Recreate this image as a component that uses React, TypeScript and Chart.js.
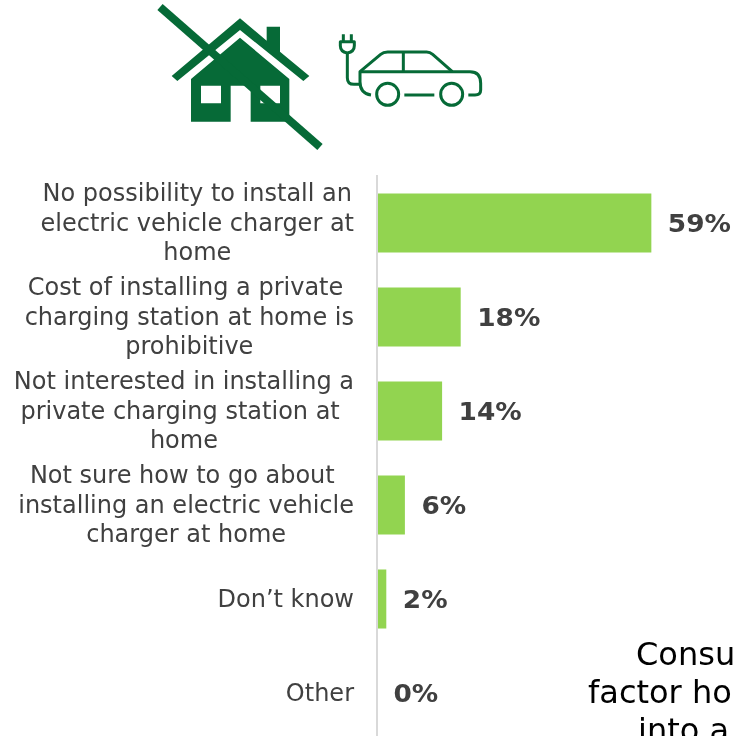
import { useEffect, useRef } from "react";
import { Chart, registerables } from "chart.js";

Chart.register(...registerables);

const categories: string[][] = [
  ["No possibility to install an", "electric vehicle charger at", "home"],
  ["Cost of installing a private ", "charging station at home is", "prohibitive"],
  ["Not interested in installing a", "private charging station at ", "home"],
  ["Not sure how to go about ", "installing an electric vehicle", "charger at home"],
  ["Don’t know"],
  ["Other"],
];
const shares = [59, 18, 14, 6, 2, 0];
const clippedNote = [
  { text: "Consu", x: 636, y: 665 },
  { text: "factor ho", x: 588, y: 703 },
  { text: "into a", x: 638, y: 741 },
];

const FONT = '"DejaVu Sans"';
const INK = "#404040";
const GREEN = "#066a37";
const BAR = "#92d450";

// Multi-line category labels: each block hugs the axis, its lines centred inside it.
const categoryLabels = {
  id: "categoryLabels",
  afterDraw(chart: Chart) {
    const { ctx, scales } = chart;
    const rightEdge = 354;
    const lineHeight = 29.3;
    ctx.save();
    ctx.font = `24px ${FONT}`;
    ctx.fillStyle = INK;
    ctx.textBaseline = "middle";
    categories.forEach((lines, i) => {
      const y = scales.y.getPixelForValue(i) + 1.5;
      const widest = Math.max(...lines.map((l) => ctx.measureText(l).width));
      const cx = rightEdge - widest / 2;
      lines.forEach((line, k) => {
        const left = cx - ctx.measureText(line).width / 2;
        ctx.textAlign = "left";
        ctx.fillText(line, left, y + (k - (lines.length - 1) / 2) * lineHeight);
      });
    });
    ctx.restore();
  },
};

// Percentage printed just past the end of each bar, set slightly wide.
const valueLabels = {
  id: "valueLabels",
  afterDatasetsDraw(chart: Chart) {
    const { ctx } = chart;
    const bars = chart.getDatasetMeta(0).data;
    bars.forEach((bar, i) => {
      ctx.save();
      ctx.font = `bold 25px ${FONT}`;
      ctx.fillStyle = INK;
      ctx.textBaseline = "middle";
      ctx.textAlign = "left";
      ctx.translate(bar.x + 16.5, bar.y + 2.5);
      ctx.scale(1.055, 1);
      ctx.fillText(`${shares[i]}%`, 0, 0);
      ctx.restore();
    });
  },
};

// Sentence running off the right edge of the page.
const noteText = {
  id: "noteText",
  afterDraw(chart: Chart) {
    const { ctx } = chart;
    ctx.save();
    ctx.font = `32px ${FONT}`;
    ctx.fillStyle = "#000000";
    ctx.textAlign = "left";
    ctx.textBaseline = "alphabetic";
    clippedNote.forEach((l) => ctx.fillText(l.text, l.x, l.y));
    ctx.restore();
  },
};

function HouseIcon() {
  return (
    <svg
      viewBox="0 0 540 465"
      width={180}
      height={155}
      style={{ position: "absolute", left: 150, top: 0 }}
    >
      <path
        fill={GREEN}
        d="M65 228 L270 55 L350 122 L350 80 L390 80 L390 155 L478 228 L460 243 L270 90 L82 243 Z"
      />
      <path
        fill={GREEN}
        fillRule="evenodd"
        d="M270 113 L418 237 L418 365 L302 365 L302 257 L242 257 L242 365 L123 365 L123 237 Z M153 257 L153 310 L213 310 L213 257 Z M331 257 L331 310 L390 310 L390 257 Z"
      />
      <line x1={30} y1={21} x2={510} y2={441} stroke={GREEN} strokeWidth={24} />
    </svg>
  );
}

function CarIcon() {
  return (
    <svg
      viewBox="0 0 465 255"
      width={155}
      height={85}
      style={{ position: "absolute", left: 335, top: 25 }}
      fill="none"
      stroke={GREEN}
      strokeWidth={9}
      strokeLinecap="butt"
      strokeLinejoin="round"
    >
      <path d="M25 28 V48 M49 28 V48" />
      <path d="M16 50 H58 V62 Q58 80 37 84 Q16 80 16 62 Z" />
      <path d="M37 84 V158 Q37 178 57 178 H72" />
      <path d="M108 210 Q75 205 75 170 V140 L137 88 Q145 81 158 81 H275 Q285 81 293 88 L352 140" />
      <path d="M75 140 H405 Q437 140 437 175 V195 Q437 210 420 210 H400" />
      <path d="M205 84 V140" />
      <path d="M208 210 H298" />
      <circle cx={158} cy={208} r={33} />
      <circle cx={350} cy={208} r={33} />
    </svg>
  );
}

export default function App() {
  const canvasRef = useRef<HTMLCanvasElement>(null);

  useEffect(() => {
    const chart = new Chart(canvasRef.current!, {
      type: "bar",
      data: {
        labels: categories.map((c) => c.join(" ")),
        datasets: [
          {
            data: shares,
            backgroundColor: BAR,
            categoryPercentage: 1,
            barPercentage: 0.628,
          },
        ],
      },
      options: {
        indexAxis: "y",
        animation: false,
        responsive: false,
        layout: { padding: { top: 176, left: 0, right: 0, bottom: 0 } },
        plugins: { legend: { display: false }, tooltip: { enabled: false } },
        scales: {
          x: { display: false, min: 0, max: 80 },
          y: {
            grid: { display: false },
            border: { color: "#d9d9d9", width: 2, z: 1 },
            ticks: { display: false },
            afterFit(scale) {
              scale.width = 377;
            },
          },
        },
      },
      plugins: [valueLabels, categoryLabels, noteText],
    });
    return () => chart.destroy();
  }, []);

  return (
    <div
      style={{
        position: "fixed",
        left: 0,
        top: 0,
        width: 733,
        height: 736,
        overflow: "hidden",
        background: "#ffffff",
      }}
    >
      <HouseIcon />
      <CarIcon />
      <canvas
        ref={canvasRef}
        width={749}
        height={740}
        style={{ position: "absolute", left: 0, top: 0, display: "block" }}
      />
    </div>
  );
}
